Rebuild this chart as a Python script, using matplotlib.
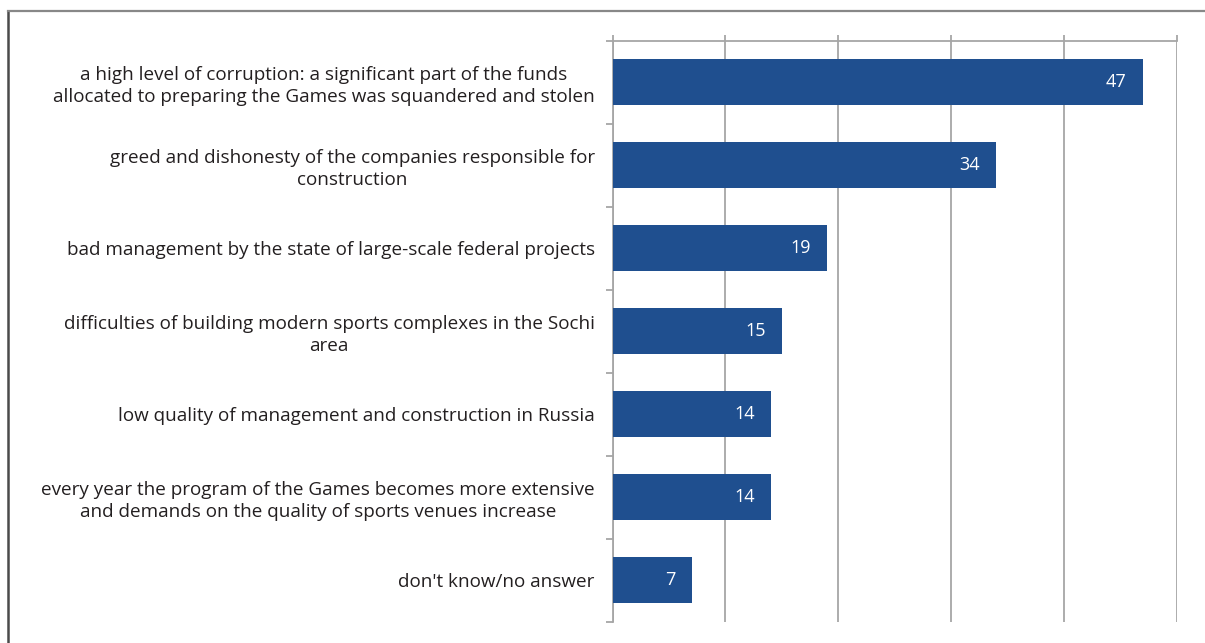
import matplotlib
matplotlib.use('Agg')
import matplotlib.pyplot as plt
from matplotlib.lines import Line2D

categories = [
    "a high level of corruption: a significant part of the funds\nallocated to preparing the Games was squandered and stolen",
    "greed and dishonesty of the companies responsible for\nconstruction",
    "bad management by the state of large-scale federal projects",
    "difficulties of building modern sports complexes in the Sochi\narea",
    "low quality of management and construction in Russia",
    "every year the program of the Games becomes more extensive\nand demands on the quality of sports venues increase",
    "don't know/no answer",
]
values = [47, 34, 19, 15, 14, 14, 7]
x_ticks = [0, 10, 20, 30, 40, 50]

W, H = 1205, 643
BAR = '#1f4f8f'
GRID = '#a6a6a6'
TXT = '#231f20'

fig = plt.figure(figsize=(W / 100, H / 100), dpi=100)
left, right, top, bottom = 612.7, 1176.5, 40.7, 621.7
ax = fig.add_axes([left / W, 1 - bottom / H, (right - left) / W, (bottom - top) / H])

n = len(categories)
pos = list(range(n))
ax.barh(pos, values, height=0.55, color=BAR, zorder=3)
ax.set_ylim(n - 0.5, -0.5)
ax.set_xlim(x_ticks[0], x_ticks[-1])

ax.set_xticks(x_ticks)
ax.xaxis.tick_top()
ax.tick_params(axis='x', which='major', direction='out', length=4.4, width=1.3,
               color=GRID, labeltop=False, labelbottom=False)
ax.grid(axis='x', color=GRID, linewidth=1.3, zorder=0)

ax.set_yticks([i - 0.5 for i in range(n + 1)])
ax.set_yticklabels([])
ax.tick_params(axis='y', which='major', direction='out', length=5, width=1.3, color=GRID)
ax.set_yticks(pos, minor=True)
ax.set_yticklabels(categories, minor=True, fontsize=13.6, color=TXT,
                   family=['Open Sans', 'DejaVu Sans'], multialignment='center',
                   linespacing=1.28)
ax.tick_params(axis='y', which='minor', length=0, pad=13)

for s in ['right', 'bottom']:
    ax.spines[s].set_visible(False)
for s in ['left', 'top']:
    ax.spines[s].set_color(GRID)
    ax.spines[s].set_linewidth(1.3)

for i, v in zip(pos, values):
    ax.annotate(str(v), (v, i), xytext=(-11.5, 0), textcoords='offset points',
                ha='right', va='center', color='white', fontsize=13,
                family=['Open Sans', 'DejaVu Sans'], zorder=4)

fy = 1 - 10.7 / H
fx = 8 / W
fig.add_artist(Line2D([fx, fx], [0, fy], transform=fig.transFigure, color='#4a4a4a', lw=1.8))
fig.add_artist(Line2D([fx, 1], [fy, fy], transform=fig.transFigure, color='#888888', lw=1.6))

fig.savefig('out.png', dpi=100)
